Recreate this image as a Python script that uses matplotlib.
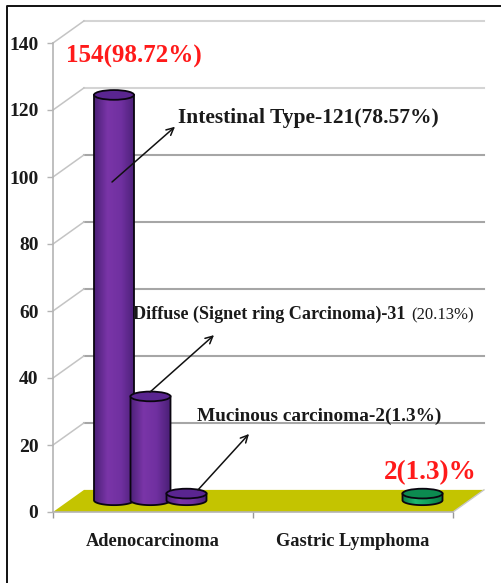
import numpy as np
import matplotlib
matplotlib.use('Agg')
import matplotlib.pyplot as plt
from matplotlib.lines import Line2D
from matplotlib.patches import Ellipse, PathPatch, Polygon
from matplotlib.path import Path
from matplotlib.colors import LinearSegmentedColormap

plt.rcParams['font.family'] = ['Liberation Serif', 'DejaVu Serif']
plt.rcParams['font.weight'] = 'bold'

categories = ['Adenocarcinoma', 'Gastric Lymphoma']
yticks = [0, 20, 40, 60, 80, 100, 120, 140]
adeno_values = [121, 31, 2]
lymphoma_values = [2]

W, H = 502, 583
fig = plt.figure(figsize=(W / 100, H / 100), dpi=100, facecolor='white')
ax = fig.add_axes([53 / W, (H - 512) / H, 400 / W, 469 / H])
ax.set_xlim(0, 2)
ax.set_ylim(0, 140)
ax.patch.set_visible(False)

# 3d look: back wall is shifted right and up from the front axes
depth_x, depth_y = 0.155, 6.6
lift = 3.5
bar_w = 0.2
ell_h = 2.9

for s in ['top', 'right']:
    ax.spines[s].set_visible(False)
for s in ['left', 'bottom']:
    ax.spines[s].set_color('#b4b4b4')
    ax.spines[s].set_linewidth(1.2)

ax.set_yticks(yticks)
ax.set_xticks([0.5, 1.5], categories)
ax.set_xticks([0, 1, 2], minor=True)
ax.tick_params(axis='y', length=4.5, width=1, color='#b4b4b4', pad=6, labelsize=14, labelcolor='#1a1a1a')
ax.tick_params(axis='x', which='major', length=0, pad=15, labelsize=13.2, labelcolor='#1a1a1a')
ax.tick_params(axis='x', which='minor', length=4, width=1, color='#999999')

# floor
ax.add_patch(Polygon([(0, 0), (depth_x, depth_y), (2 + depth_x, depth_y), (2, 0)],
                     closed=True, fc='#c4c400', ec='none', zorder=1, clip_on=False))

# wall grid and the slanted joins back to the axis
for v in yticks[1:]:
    col = '#d4d4d4' if v >= 120 else '#a6a6a6'
    ax.plot([depth_x, 2 + depth_x], [v + depth_y, v + depth_y], color=col, lw=1.5,
            zorder=1, clip_on=False)
    ax.plot([0, depth_x], [v, v + depth_y], color='#c4c4c4', lw=1.1, zorder=1, clip_on=False)
ax.plot([2, 2 + depth_x], [0, depth_y], color='#c8c8c8', lw=1, zorder=1, clip_on=False)

shade = LinearSegmentedColormap.from_list('shade', ['#4c2078', '#7a35a8', '#7030a0', '#4c2078'])
shade_green = LinearSegmentedColormap.from_list('shade_g', ['#0a7a45', '#1fb870', '#12a05c', '#0a7a45'])
grad = np.linspace(0, 1, 64).reshape(1, -1)


def cylinder(xc, value, cmap, top_col, z):
    x0, x1 = xc - bar_w / 2, xc + bar_w / 2
    y0, y1 = lift, lift + value
    t = np.linspace(np.pi, 2 * np.pi, 40)
    bx = xc + bar_w / 2 * np.cos(t)
    by = y0 + ell_h / 2 * np.sin(t)
    verts = [(x0, y1)] + list(zip(bx, by)) + [(x1, y1), (x0, y1)]
    codes = [Path.MOVETO] + [Path.LINETO] * (len(verts) - 2) + [Path.CLOSEPOLY]
    body = PathPatch(Path(verts, codes), fc='none', ec='#0a0510', lw=1.3, zorder=z + 0.2, clip_on=False)
    im = ax.imshow(grad, cmap=cmap, aspect='auto', zorder=z,
                   extent=[x0, x1, y0 - ell_h, y1], clip_on=True)
    ax.add_patch(body)
    im.set_clip_path(body)
    ax.add_patch(Ellipse((xc, y1), bar_w, ell_h, fc=top_col, ec='#0a0510', lw=1.3,
                         zorder=z + 0.4, clip_on=False))


adeno_x = [0.305, 0.4875, 0.6675]
for i, (xc, v) in enumerate(zip(adeno_x, adeno_values)):
    cylinder(xc, v, shade, '#5a2590', 2 + i)
for xc, v in zip([1.8475], lymphoma_values):
    cylinder(xc, v, shade_green, '#0c8a50', 2)
ax.set_xlim(0, 2)
ax.set_ylim(0, 140)

# callout arrows
arrows = [((0.295, 98.5), (0.61, 115)),
          ((0.485, 35.8), (0.805, 52.8)),
          ((0.725, 6.6), (0.98, 23.3))]
for start, end in arrows:
    ax.annotate('', xy=end, xytext=start, zorder=6, annotation_clip=False,
                arrowprops=dict(arrowstyle='->', color='#111111', lw=1.1,
                                shrinkA=0, shrinkB=0, mutation_scale=13))


def px(x, y):
    return (x - 53) / 200, (512 - y) / 3.35


def label(x, y, s, size, color='#1a1a1a', weight='bold'):
    xd, yd = px(x, y)
    ax.text(xd, yd, s, fontsize=size, color=color, ha='left', va='center', zorder=7,
            clip_on=False, fontweight=weight)


label(66, 56, '154(98.72%)', 18, '#ff1a1a')
label(178, 118, 'Intestinal Type-121(78.57%)', 15.5)
label(133, 314, 'Diffuse (Signet ring Carcinoma)-31', 13.1)
label(411, 315, '(20.13%)', 12, weight='normal')
label(197, 416, 'Mucinous carcinoma-2(1.3%)', 13.9)
label(384, 473, '2(1.3)%', 19.5, '#ff1a1a')

# page border on the left and top only
fig.add_artist(Line2D([7.5 / W, 7.5 / W, 1], [0, 1 - 5.5 / H, 1 - 5.5 / H],
                      color='#111111', lw=1.4))

fig.savefig('out.png', dpi=100)
